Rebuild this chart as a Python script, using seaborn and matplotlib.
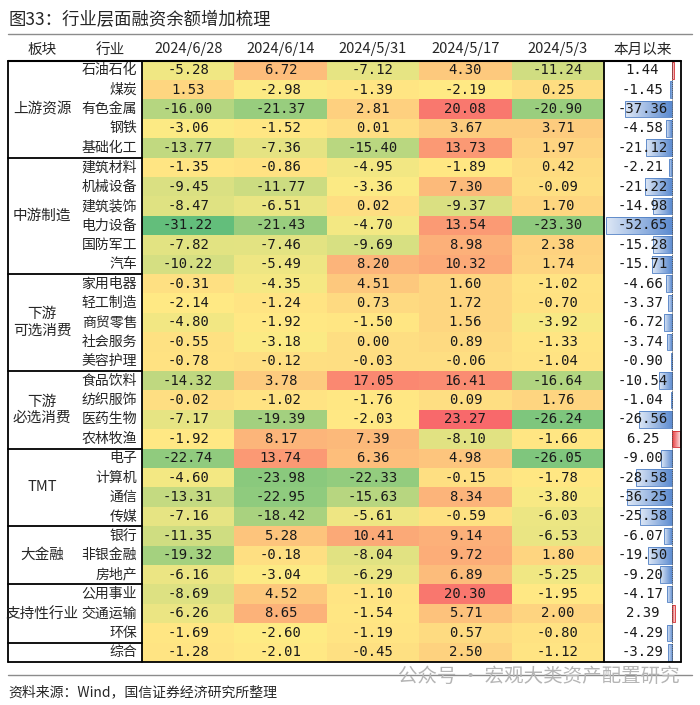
import numpy as np
import pandas as pd
import matplotlib
matplotlib.use("Agg")
import matplotlib.pyplot as plt
from matplotlib.colors import LinearSegmentedColormap, TwoSlopeNorm
from matplotlib.lines import Line2D
import seaborn as sns

# Data
dates = ['2024/6/28', '2024/6/14', '2024/5/31', '2024/5/17', '2024/5/3']
industries = ['石油石化', '煤炭', '有色金属', '钢铁', '基础化工',
              '建筑材料', '机械设备', '建筑装饰', '电力设备', '国防军工', '汽车',
              '家用电器', '轻工制造', '商贸零售', '社会服务', '美容护理',
              '食品饮料', '纺织服饰', '医药生物', '农林牧渔',
              '电子', '计算机', '通信', '传媒',
              '银行', '非银金融', '房地产',
              '公用事业', '交通运输', '环保',
              '综合']
group_names = ['上游资源', '中游制造', '下游\n可选消费', '下游\n必选消费', 'TMT', '大金融', '支持性行业', '']
group_sizes = [5, 6, 5, 4, 4, 3, 3, 1]

v_0628 = [-5.28, 1.53, -16.00, -3.06, -13.77, -1.35, -9.45, -8.47, -31.22, -7.82, -10.22,
          -0.31, -2.14, -4.80, -0.55, -0.78, -14.32, -0.02, -7.17, -1.92,
          -22.74, -4.60, -13.31, -7.16, -11.35, -19.32, -6.16, -8.69, -6.26, -1.69, -1.28]
v_0614 = [6.72, -2.98, -21.37, -1.52, -7.36, -0.86, -11.77, -6.51, -21.43, -7.46, -5.49,
          -4.35, -1.24, -1.92, -3.18, -0.12, 3.78, -1.02, -19.39, 8.17,
          13.74, -23.98, -22.95, -18.42, 5.28, -0.18, -3.04, 4.52, 8.65, -2.60, -2.01]
v_0531 = [-7.12, -1.39, 2.81, 0.01, -15.40, -4.95, -3.36, 0.02, -4.70, -9.69, 8.20,
          4.51, 0.73, -1.50, 0.00, -0.03, 17.05, -1.76, -2.03, 7.39,
          6.36, -22.33, -15.63, -5.61, 10.41, -8.04, -6.29, -1.10, -1.54, -1.19, -0.45]
v_0517 = [4.30, -2.19, 20.08, 3.67, 13.73, -1.89, 7.30, -9.37, 13.54, 8.98, 10.32,
          1.60, 1.72, 1.56, 0.89, -0.06, 16.41, 0.09, 23.27, -8.10,
          4.98, -0.15, 8.34, -0.59, 9.14, 9.72, 6.89, 20.30, 5.71, 0.57, 2.50]
v_0503 = [-11.24, 0.25, -20.90, 3.71, 1.97, 0.42, -0.09, 1.70, -23.30, 2.38, 1.74,
          -1.02, -0.70, -3.92, -1.33, -1.04, -16.64, 1.76, -26.24, -1.66,
          -26.05, -1.78, -3.80, -6.03, -6.53, 1.80, -5.25, -1.95, 2.00, -0.80, -1.12]
month_total = [1.44, -1.45, -37.36, -4.58, -21.12, -2.21, -21.22, -14.98, -52.65, -15.28, -15.71,
               -4.66, -3.37, -6.72, -3.74, -0.90, -10.54, -1.04, -26.56, 6.25,
               -9.00, -28.58, -36.25, -25.58, -6.07, -19.50, -9.20, -4.17, 2.39, -4.29, -3.29]

df = pd.DataFrame({d: v for d, v in zip(dates, [v_0628, v_0614, v_0531, v_0517, v_0503])},
                  index=industries)

sns.set_theme(style="white")
plt.rcParams['font.family'] = ['Noto Sans CJK SC', 'DejaVu Sans']
NUM_FONT = 'DejaVu Sans Mono'

W, H = 700, 705
fig = plt.figure(figsize=(7, 7.05), dpi=100)

def px_axes(x0, y0, x1, y1):
    return fig.add_axes([x0 / W, 1 - y1 / H, (x1 - x0) / W, (y1 - y0) / H])

def line(xs, ys, lw=1.2, color='black'):
    fig.add_artist(Line2D([x / W for x in xs], [1 - y / H for y in ys], lw=lw, color=color))

top, bottom = 60.5, 662
row_h = (bottom - top) / len(industries)
x_left, x_lab, x_heat_end, x_right = 8, 142, 604, 681

# Heatmap (Excel style green-yellow-red scale)
cmap = LinearSegmentedColormap.from_list('excel3', ['#63BE7B', '#FFEB84', '#F8696B'])
vals = df.values
norm = TwoSlopeNorm(vmin=vals.min(), vcenter=-2.5, vmax=vals.max())
ax = px_axes(x_lab, top, x_heat_end, bottom)
sns.heatmap(df, ax=ax, cmap=cmap, norm=norm, annot=True, fmt='.2f', cbar=False,
            annot_kws={'fontsize': 10, 'color': '#1a1a1a', 'family': NUM_FONT})
ax.xaxis.tick_top()
ax.set_xticklabels(dates, fontsize=10.5, rotation=0)
ax.set_yticklabels(industries, fontsize=10, rotation=0)
ax.tick_params(axis='x', length=0, pad=3)
ax.tick_params(axis='y', length=0, pad=3.5)
ax.set_xlabel('')
ax.set_ylabel('')

# Month-to-date data bars
axb = px_axes(x_heat_end, top, x_right, bottom)
sns.barplot(x=month_total, y=industries, orient='h', ax=axb, color='#5B8BD0', width=0.86)
xlim = (-54.2, 7.15)
ylim = axb.get_ylim()
blue = LinearSegmentedColormap.from_list('b', ['#ffffff', '#5A8AD0'])
red = LinearSegmentedColormap.from_list('r', ['#ffffff', '#E8383B'])
grad = np.linspace(0, 1, 256).reshape(1, -1)
for p, v in zip(axb.patches, month_total):
    b = p.get_bbox()
    x0, x1 = sorted([b.x0, b.x1])
    y0, y1 = sorted([b.y0, b.y1])
    if v < 0:
        im = axb.imshow(grad, extent=[x0, x1, y1, y0], cmap=blue, aspect='auto', zorder=1, vmin=-0.25, vmax=1)
        p.set_edgecolor('#4F7FC4')
    else:
        im = axb.imshow(grad[:, ::-1], extent=[x0, x1, y1, y0], cmap=red, aspect='auto', zorder=1, vmin=-0.25, vmax=1)
        p.set_edgecolor('#D42A2E')
    im.set_clip_path(p)
    p.set_facecolor('none')
    p.set_linewidth(0.6)
    p.set_zorder(2)
axb.axvline(0, color='#555555', lw=0.7, ls=(0, (1, 1)), zorder=3)
axb.set_xlim(*xlim)
axb.set_ylim(*ylim)
for i, v in enumerate(month_total):
    axb.text(0.5, i, f'{v:.2f}', transform=axb.get_yaxis_transform(), ha='center', va='center',
             fontsize=10, color='#1a1a1a', family=NUM_FONT, zorder=4)
axb.set_xticks([])
axb.set_yticks([])
axb.set_xlabel('')
axb.set_ylabel('')
for s in axb.spines.values():
    s.set_visible(False)

# Group labels
start = 0
for name, n in zip(group_names, group_sizes):
    yc = top + (start + n / 2) * row_h
    fig.text(42 / W, 1 - yc / H, name, ha='center', va='center', fontsize=10.5, linespacing=1.2)
    start += n
    if start < len(industries):
        line([x_left, x_lab], [top + start * row_h] * 2, lw=1.3)

# Frame lines
line([x_left, x_right], [top, top], lw=1.5)
line([x_left, x_right], [bottom, bottom], lw=1.3)
for x in [x_left, x_lab, x_heat_end, x_right]:
    line([x, x], [top, bottom], lw=1.3)
line([8, 692], [34, 34], lw=1.0, color='#8c8c8c')
line([8, 692], [675, 675], lw=1.0, color='#8c8c8c')

# Headers and text
fig.text(8 / W, 1 - 20 / H, '图33：行业层面融资余额增加梳理', ha='left', va='center', fontsize=12.5)
fig.text(42 / W, 1 - 50 / H, '板块', ha='center', va='center', fontsize=10.5)
fig.text(110 / W, 1 - 50 / H, '行业', ha='center', va='center', fontsize=10.5)
fig.text(643 / W, 1 - 50 / H, '本月以来', ha='center', va='center', fontsize=10.5)
fig.text(680 / W, 1 - 676 / H, '公众号 · 宏观大类资产配置研究', ha='right', va='center',
         fontsize=14, color='#b5b5b5')
fig.text(8 / W, 1 - 692 / H, '资料来源：Wind，国信证券经济研究所整理', ha='left', va='center', fontsize=10)

fig.savefig('out.png', dpi=100)
